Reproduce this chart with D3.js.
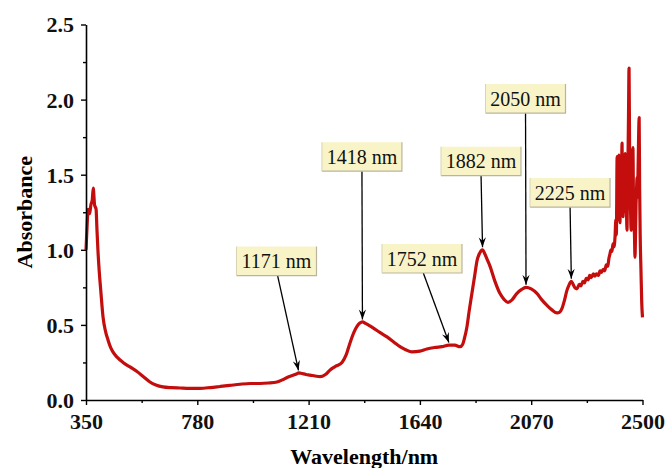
<!DOCTYPE html>
<html>
<head>
<meta charset="utf-8">
<script src="https://cdn.jsdelivr.net/npm/d3@7"></script>
<style>
  html, body { margin: 0; padding: 0; background: #fff; }
  svg { display: block; }
  .tick text { font-family: "Liberation Serif", "Times New Roman", serif; font-weight: bold; font-size: 22px; fill: #111; }
</style>
</head>
<body>
<svg id="chart" width="666" height="468"></svg>
<script>
// Vis-NIR absorbance spectrum
const wavelength = [
  350, 354, 358, 364, 369, 374, 378, 383, 389, 392, 396, 401, 407, 416, 425, 435, 445, 454, 470, 493,
  520, 547, 572, 597, 620, 647, 680, 713, 750, 790, 830, 868, 905, 945, 984, 1022, 1055, 1088, 1110,
  1127, 1150, 1165, 1171, 1180, 1200, 1215, 1235, 1254, 1275, 1293, 1315, 1339, 1355, 1370, 1385, 1397,
  1408, 1418, 1430, 1445, 1459, 1485, 1513, 1540, 1563, 1585, 1609, 1640, 1667, 1700, 1725, 1752, 1775,
  1795, 1805, 1812, 1822, 1831, 1841, 1851, 1861, 1870, 1877, 1882, 1890, 1900, 1911, 1930, 1949, 1965,
  1980, 1995, 2015, 2032, 2050, 2070, 2092, 2112, 2131, 2150, 2170, 2180, 2189, 2198, 2208, 2216, 2225,
  2232, 2240, 2247, 2256, 2262, 2270, 2276, 2283, 2290, 2296, 2302, 2310, 2316, 2322, 2330, 2336, 2342,
  2348, 2354, 2360, 2366, 2370, 2374, 2378, 2382, 2386, 2390, 2394, 2397, 2399, 2402, 2404, 2406, 2408,
  2409, 2411, 2413, 2415, 2418, 2421, 2423, 2425, 2427, 2430, 2433, 2435, 2437, 2440, 2442, 2444, 2446,
  2448, 2450, 2452, 2454, 2456, 2458, 2460, 2463, 2465, 2467, 2469, 2471, 2473, 2475, 2477, 2479, 2481,
  2483, 2485, 2487, 2489, 2491, 2494, 2497, 2500
];
const absorbance = [
  1.00, 1.15, 1.27, 1.24, 1.30, 1.33, 1.41, 1.30, 1.27, 1.15, 1.00, 0.86, 0.73, 0.55, 0.46, 0.40, 0.35, 0.32, 0.285, 0.25,
  0.22, 0.19, 0.155, 0.12, 0.10, 0.087, 0.082, 0.080, 0.078, 0.078, 0.083, 0.090, 0.097, 0.105, 0.110, 0.110, 0.113, 0.120, 0.135,
  0.150, 0.165, 0.175, 0.180, 0.178, 0.170, 0.166, 0.160, 0.155, 0.170, 0.200, 0.225, 0.250, 0.300, 0.380, 0.450, 0.490,
  0.512, 0.520, 0.510, 0.495, 0.480, 0.450, 0.420, 0.385, 0.355, 0.335, 0.320, 0.325, 0.340, 0.350, 0.355, 0.366, 0.365,
  0.355, 0.370, 0.410, 0.490, 0.600, 0.710, 0.820, 0.930, 0.975, 0.995, 1.000, 0.975, 0.935, 0.890, 0.790, 0.710, 0.670,
  0.650, 0.665, 0.710, 0.735, 0.750, 0.740, 0.710, 0.665, 0.630, 0.600, 0.580, 0.585, 0.610, 0.660, 0.730, 0.765, 0.790,
  0.770, 0.745, 0.740, 0.770, 0.760, 0.790, 0.780, 0.810, 0.800, 0.830, 0.815, 0.840, 0.825, 0.840, 0.830, 0.860, 0.850,
  0.870, 0.860, 0.900, 0.890, 0.940, 0.970, 1.000, 0.990, 1.040, 1.020, 1.090, 1.200, 1.100, 1.620, 1.200, 1.450, 1.250,
  1.630, 1.300, 1.180, 1.500, 1.350, 1.710, 1.300, 1.220, 1.450, 1.300, 1.640, 1.250, 1.350, 1.130, 1.400, 1.600, 1.900,
  2.210, 1.700, 1.400, 1.250, 1.130, 1.350, 1.550, 1.680, 1.350, 1.200, 1.100, 0.950, 1.100, 1.300, 1.400, 1.480, 1.350,
  1.550, 1.750, 1.880, 1.400, 1.100, 0.870, 0.650, 0.550
];

// Axis ticks
const xTicks = [350, 780, 1210, 1640, 2070, 2500];
const xMinorTicks = [565, 995, 1425, 1855, 2285];
const yTicks = [0.0, 0.5, 1.0, 1.5, 2.0, 2.5];
const yMinorTicks = [0.25, 0.75, 1.25, 1.75, 2.25];

// Annotated absorption bands and where their callout boxes sit (data units)
const peakLabels = ["1171 nm", "1418 nm", "1752 nm", "1882 nm", "2050 nm", "2225 nm"];
const peakWavelengths = [1171, 1418, 1752, 1882, 2050, 2225];
const boxWavelengths = [1086, 1416, 1648, 1876, 2048, 2220];
const boxAbsorbance = [0.925, 1.62, 0.942, 1.59, 2.007, 1.381];

const svg = d3.select("#chart");
const margin = { left: 86, right: 23.5, top: 24.5, bottom: 68 };
const W = 666, H = 468;
const serif = "Liberation Serif, Times New Roman, serif";

const x = d3.scaleLinear().domain([350, 2500]).range([margin.left, W - margin.right]);
const y = d3.scaleLinear().domain([0, 2.5]).range([H - margin.bottom, margin.top]);

const series = wavelength.map((w, i) => ({ w, a: absorbance[i] }));

// Spectrum line
const line = d3.line().x(d => x(d.w)).y(d => y(d.a)).curve(d3.curveMonotoneX);
svg.append("path")
  .datum(series)
  .attr("fill", "none")
  .attr("stroke", "#c40d0d")
  .attr("stroke-width", 3.2)
  .attr("stroke-linejoin", "round")
  .attr("d", line);

// Axes
const xAxis = svg.append("g")
  .attr("transform", `translate(0,${y(0)})`)
  .call(d3.axisBottom(x).tickValues(xTicks).tickFormat(d3.format("d")).tickSize(5).tickSizeOuter(0).tickPadding(8));
svg.append("g")
  .attr("transform", `translate(0,${y(0)})`)
  .call(d3.axisBottom(x).tickValues(xMinorTicks).tickFormat("").tickSize(3).tickSizeOuter(0))
  .call(g => g.select(".domain").remove());

const yAxis = svg.append("g")
  .attr("transform", `translate(${x(350)},0)`)
  .call(d3.axisLeft(y).tickValues(yTicks).tickFormat(d3.format(".1f")).tickSize(5).tickSizeOuter(0).tickPadding(7));
svg.append("g")
  .attr("transform", `translate(${x(350)},0)`)
  .call(d3.axisLeft(y).tickValues(yMinorTicks).tickFormat("").tickSize(3).tickSizeOuter(0))
  .call(g => g.select(".domain").remove());

svg.selectAll(".domain").attr("stroke", "#000").attr("stroke-width", 1.6);
svg.selectAll(".tick line").attr("stroke", "#000").attr("stroke-width", 1.4);
xAxis.selectAll(".tick text").attr("dy", "0.71em");
yAxis.selectAll(".tick text").attr("dy", "0.34em");

// Axis titles
svg.append("text")
  .attr("x", (x(350) + x(2500)) / 2)
  .attr("y", 464)
  .attr("text-anchor", "middle")
  .attr("font-family", serif)
  .attr("font-weight", "bold")
  .attr("font-size", 22)
  .text("Wavelength/nm");

svg.append("text")
  .attr("transform", `translate(32,${(y(0) + y(2.5)) / 2}) rotate(-90)`)
  .attr("text-anchor", "middle")
  .attr("font-family", serif)
  .attr("font-weight", "bold")
  .attr("font-size", 22)
  .text("Absorbance");

// Arrow head marker
svg.append("defs").append("marker")
  .attr("id", "arrow")
  .attr("viewBox", "-10 -5 12 10")
  .attr("refX", 0).attr("refY", 0)
  .attr("markerWidth", 12).attr("markerHeight", 10)
  .attr("markerUnits", "userSpaceOnUse")
  .attr("orient", "auto")
  .append("path")
  .attr("d", "M0,0 L-10,-3.6 L-6.5,0 L-10,3.6 Z")
  .attr("fill", "#000");

// Callouts
const boxW = 80, boxH = 29;
const valueAt = w => absorbance[wavelength.indexOf(w)];

const callouts = svg.append("g").attr("class", "callouts");
peakLabels.forEach((label, i) => {
  const cx = x(boxWavelengths[i]);
  const cy = y(boxAbsorbance[i]);
  const tipX = x(peakWavelengths[i]);
  const tipY = y(valueAt(peakWavelengths[i])) - 2.5;
  const g = callouts.append("g");

  g.append("line")
    .attr("x1", cx + (tipX - cx) * 0.05).attr("y1", cy + boxH / 2)
    .attr("x2", tipX).attr("y2", tipY)
    .attr("stroke", "#000").attr("stroke-width", 1.3)
    .attr("marker-end", "url(#arrow)");

  g.append("rect")
    .attr("x", cx - boxW / 2).attr("y", cy - boxH / 2)
    .attr("width", boxW).attr("height", boxH)
    .attr("fill", "#f8f4c8");
  // soft shadow edges
  g.append("path")
    .attr("d", `M${cx + boxW / 2},${cy - boxH / 2} V${cy + boxH / 2} H${cx - boxW / 2}`)
    .attr("fill", "none").attr("stroke", "#b9b59c").attr("stroke-width", 1.2);
  g.append("line")
    .attr("x1", cx - boxW / 2).attr("y1", cy - boxH / 2)
    .attr("x2", cx - boxW / 2).attr("y2", cy + boxH / 2)
    .attr("stroke", "#d8d4b4").attr("stroke-width", 1);

  g.append("text")
    .attr("x", cx).attr("y", cy)
    .attr("dy", "0.35em")
    .attr("text-anchor", "middle")
    .attr("font-family", serif)
    .attr("font-size", 20)
    .attr("fill", "#111")
    .text(label);
});
</script>
</body>
</html>
